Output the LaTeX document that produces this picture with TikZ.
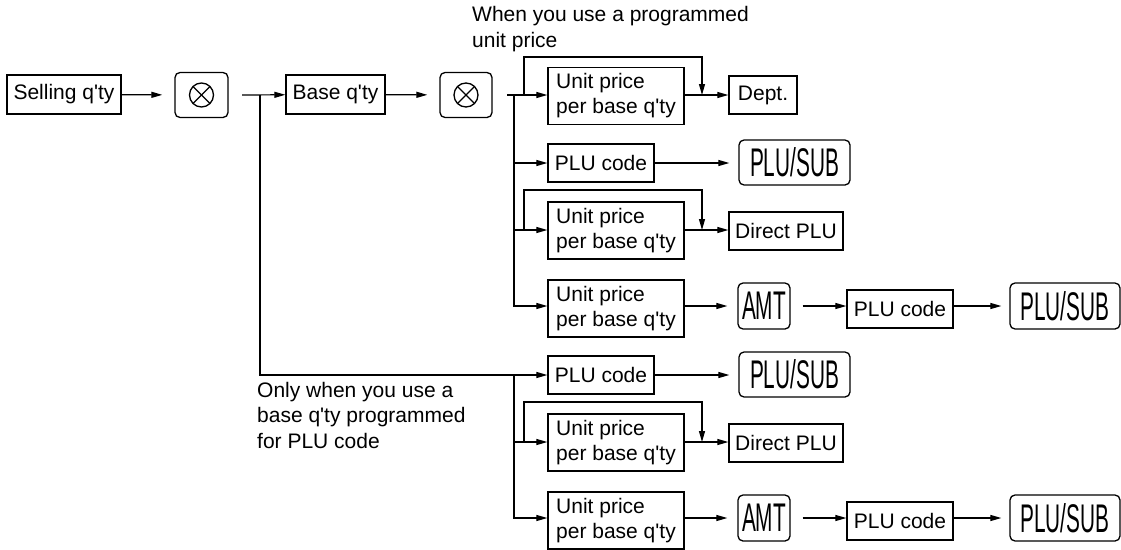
\documentclass[tikz,border=0pt]{standalone}
\usepackage{fontspec}
\setmainfont{Liberation Sans}
\newfontfamily\condfont[FakeStretch=0.52]{Liberation Sans}
\usetikzlibrary{arrows.meta}
\newcommand{\qty}{q\textquotesingle ty}
\begin{document}
\begin{tikzpicture}[x=1pt,y=-1pt,
  line/.style={line width=1.2pt},
  arr/.style={line width=1.2pt,-{Triangle[length=11pt,width=6pt]}},
  boxnode/.style={draw,line width=1.3pt,inner sep=0pt,align=left,font=\fontsize{21}{25}\selectfont},
  keynode/.style={draw,line width=1.3pt,rounded corners=5pt,inner sep=0pt},
  keytext/.style={keynode,font=\condfont\fontsize{40}{40}\selectfont},
  timeskey/.style={keynode,minimum width=52pt,minimum height=45pt,
    path picture={
      \draw[line width=1.3pt,rounded corners=0pt] (path picture bounding box.center) circle[radius=12pt];
      \draw[line width=1.3pt,rounded corners=0pt] ([shift={(-8.2pt,-8.2pt)}]path picture bounding box.center) -- ([shift={(8.2pt,8.2pt)}]path picture bounding box.center);
      \draw[line width=1.3pt,rounded corners=0pt] ([shift={(-8.2pt,8.2pt)}]path picture bounding box.center) -- ([shift={(8.2pt,-8.2pt)}]path picture bounding box.center);
    }},
  lbl/.style={inner sep=0pt,align=left,anchor=base west,font=\fontsize{21}{25.5}\selectfont}
]
\useasboundingbox (0,0) rectangle (1121,549);

% first line
\node[boxnode,minimum width=114pt,minimum height=39pt] (sell) at (64,94.5) {Selling \qty};
\node[timeskey,minimum width=53pt] (k1) at (201.5,95) {};
\node[boxnode,minimum width=99pt,minimum height=39pt] (base) at (335.5,94.5) {Base \qty};
\node[timeskey] (k2) at (466,95) {};

\node[lbl] (top) at (472,47) {When you use a programmed\\unit price};

% top section
\node[boxnode,minimum width=136pt,minimum height=57pt] (u1) at (616,96) {Unit price\\per base \qty};
\node[boxnode,minimum width=68pt,minimum height=38pt] (dept) at (763,95) {Dept.};

\node[boxnode,minimum width=106pt,minimum height=38pt] (p2) at (601,163) {PLU code};
\node[keytext,minimum width=111pt,minimum height=45pt] (ps2) at (794.5,162.5) {PLU/SUB};

\node[boxnode,minimum width=136pt,minimum height=57pt] (u3) at (616,230.5) {Unit price\\per base \qty};
\node[boxnode,minimum width=114pt,minimum height=38pt] (dp3) at (786,231) {Direct PLU};

\node[boxnode,minimum width=136pt,minimum height=57pt] (u4) at (616,308.5) {Unit price\\per base \qty};
\node[keytext,minimum width=52pt,minimum height=46pt] (amt4) at (764,306) {AMT};
\node[boxnode,minimum width=106pt,minimum height=38pt] (pc4) at (900,309) {PLU code};
\node[keytext,minimum width=110pt,minimum height=46pt] (ps4) at (1065,306) {PLU/SUB};

% bottom section
\node[boxnode,minimum width=106pt,minimum height=38pt] (p5) at (601,375) {PLU code};
\node[keytext,minimum width=111pt,minimum height=45pt] (ps5) at (794.5,374.5) {PLU/SUB};

\node[boxnode,minimum width=136pt,minimum height=57pt] (u6) at (616,442.5) {Unit price\\per base \qty};
\node[boxnode,minimum width=114pt,minimum height=38pt] (dp6) at (786,443) {Direct PLU};

\node[boxnode,minimum width=136pt,minimum height=57pt] (u7) at (616,520.5) {Unit price\\per base \qty};
\node[keytext,minimum width=52pt,minimum height=46pt] (amt7) at (764,518) {AMT};
\node[boxnode,minimum width=106pt,minimum height=38pt] (pc7) at (900,521) {PLU code};
\node[keytext,minimum width=110pt,minimum height=46pt] (ps7) at (1065,518) {PLU/SUB};

\node[lbl] (only) at (257,448) {Only when you use a\\base \qty{} programmed\\for PLU code};

% coordinates
\coordinate (a1) at (242,95);
\coordinate (b1) at (260,95);
\coordinate (a2) at (507,95);
\coordinate (v1) at (514,95);
\coordinate (l1) at (524,95);
\coordinate (m1) at (702,95);
\coordinate (l3) at (524,230);
\coordinate (m3) at (702,230);
\coordinate (v5) at (514,375);
\coordinate (l6) at (524,442);
\coordinate (m6) at (702,442);

% connectors first line
\draw[arr,shorten >=12pt] (sell) -- (k1);
\draw[arr] (a1) -- (base);
\draw[arr] (b1) |- (p5.west);
\draw[arr,shorten >=12pt] (base) -- (k2);
\draw[arr] (a2) -- (u1.west|-a2);

% top section
\draw[line] (v1) -- (514,307);
\draw[arr] (v1) |- (p2.west);
\draw[arr] (v1) |- (u3.west|-l3);
\draw[arr] (v1) |- (u4.west|-amt4);
\draw[arr] (l1) -- ++(0,-38) -| (m1);
\draw[arr] (u1.east|-a2) -- (dept.west|-a2);
\draw[arr,shorten >=9pt] (p2) -- (ps2.west|-p2);
\draw[arr] (l3) -- ++(0,-40) -| (m3);
\draw[arr] (u3.east|-l3) -- (dp3.west|-l3);
\draw[arr,shorten >=10pt] (u4.east|-amt4) -- (amt4.west);
\draw[arr,shorten <=12pt] (amt4.east) -- (pc4.west|-amt4);
\draw[arr,shorten >=8pt] (pc4.east|-amt4) -- (ps4.west);

% bottom section
\draw[line] (v5) -- (514,519);
\draw[arr] (v5) |- (u6.west|-l6);
\draw[arr] (v5) |- (u7.west|-amt7);
\draw[arr] (l6) -- ++(0,-40) -| (m6);
\draw[arr,shorten >=9pt] (p5) -- (ps5.west|-p5);
\draw[arr] (u6.east|-l6) -- (dp6.west|-l6);
\draw[arr,shorten >=10pt] (u7.east|-amt7) -- (amt7.west);
\draw[arr,shorten <=12pt] (amt7.east) -- (pc7.west|-amt7);
\draw[arr,shorten >=8pt] (pc7.east|-amt7) -- (ps7.west);
\end{tikzpicture}
\end{document}
